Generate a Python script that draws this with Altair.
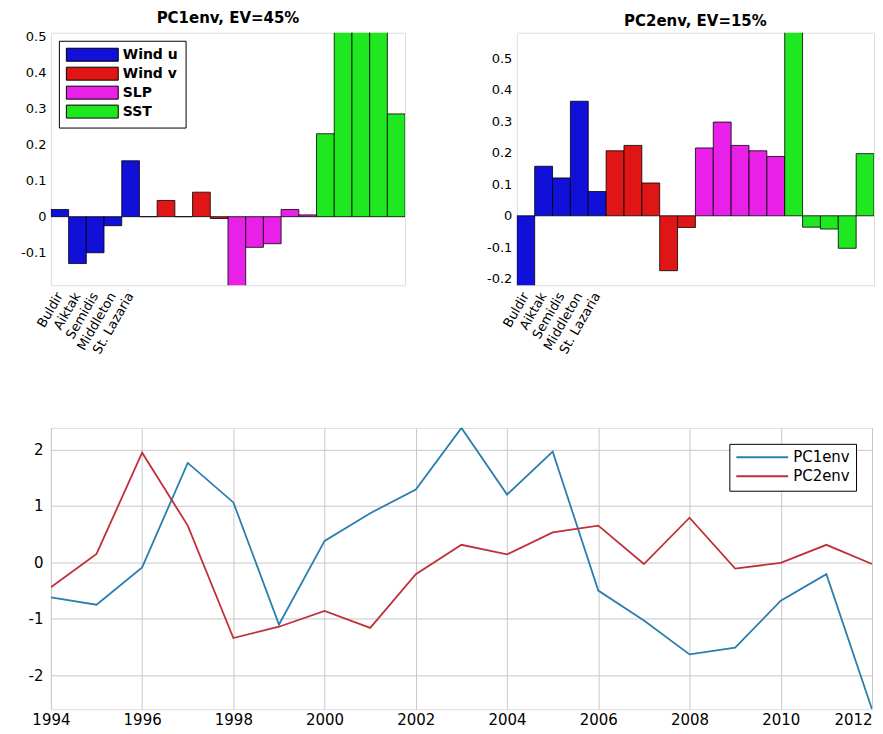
import altair as alt
import pandas as pd

stations = ["Buldir", "Aiktak", "Semidis", "Middleton", "St. Lazaria"]
variables = ["Wind u", "Wind v", "SLP", "SST"]
var_colors = ["#1010d8", "#e01515", "#e820e8", "#20e820"]

pc1_loadings = [0.02, -0.13, -0.10, -0.025, 0.155,
                0.0, 0.045, 0.0, 0.068, -0.005,
                -0.21, -0.085, -0.075, 0.02, 0.005,
                0.23, 0.55, 0.55, 0.55, 0.285]
pc2_loadings = [-0.25, 0.157, 0.12, 0.363, 0.077,
                0.206, 0.223, 0.104, -0.174, -0.037,
                0.215, 0.297, 0.223, 0.206, 0.188,
                0.62, -0.036, -0.042, -0.103, 0.197]

years = list(range(1994, 2013))
pc1_series = [-0.62, -0.75, -0.09, 1.76, 1.06, -1.1, 0.38, 0.87, 1.29, 2.38,
              1.2, 1.96, -0.5, -1.03, -1.63, -1.51, -0.68, -0.21, -2.6]
pc2_series = [-0.44, 0.15, 1.94, 0.65, -1.34, -1.14, -0.86, -1.16, -0.21, 0.31,
              0.14, 0.53, 0.65, -0.03, 0.79, -0.11, -0.01, 0.31, -0.03]
series_names = ["PC1env", "PC2env"]
series_colors = ["#2b7fae", "#c0303a"]

FONT = "DejaVu Sans"


def bar_df(vals):
    rows = []
    for i, v in enumerate(vals):
        rows.append({"idx": i + 1, "value": v, "variable": variables[i // 5]})
    return pd.DataFrame(rows)


label_arr = "[" + ",".join("'" + s + "'" for s in stations) + "]"


def bar_panel(vals, title, ydom, yvals, width, legend):
    xax = alt.Axis(values=[1, 2, 3, 4, 5], labelExpr=label_arr + "[datum.value-1]",
                   labelAngle=300, labelAlign="right", labelBaseline="middle",
                   labelFontSize=13, labelPadding=8, ticks=False, title=None,
                   domain=False, grid=False)
    yax = alt.Axis(values=yvals, labelExpr="'' + datum.value", ticks=False,
                   labelPadding=5, labelFontSize=13, title=None, domain=False, grid=False)
    if legend:
        leg = alt.Legend(orient="top-left", offset=8, title=None, padding=7,
                         strokeColor="black", fillColor="white",
                         symbolType="M-1,-1H7V1H-1Z", symbolSize=169,
                         symbolStrokeColor="black", symbolStrokeWidth=1,
                         symbolOpacity=1, labelFontSize=14, labelFontWeight="bold",
                         rowPadding=1, labelOffset=43, cornerRadius=0)
    else:
        leg = None
    return alt.Chart(bar_df(vals)).mark_bar(stroke="black", strokeWidth=0.8,
                                             clip=True, opacity=1).encode(
        x=alt.X("idx:O", scale=alt.Scale(paddingInner=0, paddingOuter=0, round=False),
                axis=xax),
        y=alt.Y("value:Q", scale=alt.Scale(domain=ydom, nice=False, zero=False), axis=yax),
        color=alt.Color("variable:N", scale=alt.Scale(domain=variables, range=var_colors),
                        legend=leg),
    ).properties(width=width, height=253,
                 title=alt.TitleParams(title, fontSize=15, fontWeight="bold",
                                       font=FONT, offset=4, frame="group"))


left = bar_panel(pc1_loadings, "PC1env, EV=45%", [-0.19, 0.51],
                 [-0.1, 0, 0.1, 0.2, 0.3, 0.4, 0.5], 355, True)
right = bar_panel(pc2_loadings, "PC2env, EV=15%", [-0.22, 0.58],
                  [-0.2, -0.1, 0, 0.1, 0.2, 0.3, 0.4, 0.5], 358, False)

line_rows = []
for name, vals in zip(series_names, [pc1_series, pc2_series]):
    for y, v in zip(years, vals):
        line_rows.append({"year": y, "value": v, "series": name})
line_df = pd.DataFrame(line_rows)

bottom = alt.Chart(line_df).mark_line(strokeWidth=1.8, clip=True).encode(
    x=alt.X("year:Q", scale=alt.Scale(domain=[1994, 2012], nice=False, zero=False),
            axis=alt.Axis(values=list(range(1994, 2013, 2)), format="d", title=None,
                          labelFlush=False,
                          labelAlign={"condition": {"test": "datum.value == 2012",
                                                    "value": "right"},
                                      "value": "center"},
                          ticks=False, labelPadding=3, labelFontSize=15,
                          domain=False, grid=True, gridColor="#c8c8c8", gridWidth=1)),
    y=alt.Y("value:Q", scale=alt.Scale(domain=[-2.6, 2.38], nice=False, zero=False),
            axis=alt.Axis(values=[-2, -1, 0, 1, 2], labelExpr="'' + datum.value",
                          title=None, ticks=False, labelPadding=8, labelFontSize=15,
                          domain=False, grid=True, gridColor="#c8c8c8", gridWidth=1)),
    color=alt.Color("series:N", scale=alt.Scale(domain=series_names, range=series_colors),
                    legend=alt.Legend(orient="top-right", offset=16, title=None,
                                      padding=6, strokeColor="black", fillColor="white",
                                      symbolType="M-1,0H7", symbolSize=169,
                                      symbolStrokeWidth=2, labelFontSize=15,
                                      rowPadding=3, labelOffset=43, cornerRadius=0)),
).properties(width=823, height=282)

top = alt.hconcat(left, right, spacing=80).resolve_scale(color="independent")

chart = alt.vconcat(top, bottom, spacing=70).resolve_scale(
    color="independent").configure_view(stroke="black", strokeWidth=1).configure(
    font=FONT).configure_axis(labelColor="black", labelFont=FONT).configure_legend(
    labelFont=FONT, labelColor="black").properties(
    padding={"left": 12, "top": 2, "right": 0, "bottom": 5})

chart.save("out.html", embed_options={"renderer": "svg", "actions": False})
